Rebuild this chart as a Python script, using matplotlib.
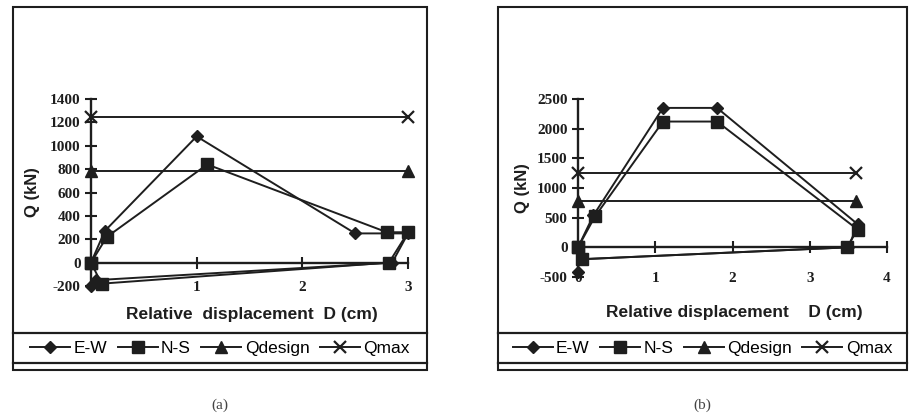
import matplotlib.pyplot as plt
from matplotlib.patches import Rectangle
from matplotlib.lines import Line2D

plt.rcParams['axes.unicode_minus'] = False

# panel (a) data
a_ew_x = [0, 0.13, 1.0, 2.5, 3.0, 2.85, 0.05, 0]
a_ew_y = [0, 270, 1080, 250, 250, 0, -150, -200]
a_ns_x = [0, 0.15, 1.1, 2.8, 3.0, 2.82, 0.1, 0]
a_ns_y = [0, 220, 840, 260, 260, 0, -180, 0]
a_lim_x = [0, 3]
a_qdesign = [780, 780]
a_qmax = [1250, 1250]
a_xticks = [0, 1, 2, 3]
a_yticks = [-200, 0, 200, 400, 600, 800, 1000, 1200, 1400]

# panel (b) data
b_ew_x = [0, 0, 0.2, 1.1, 1.8, 3.62, 3.5, 0.05]
b_ew_y = [-420, 0, 540, 2350, 2350, 390, 0, -200]
b_ns_x = [0, 0.22, 1.1, 1.8, 3.62, 3.48, 0.05, 0]
b_ns_y = [0, 520, 2120, 2120, 300, 0, -200, 0]
b_lim_x = [0, 3.6]
b_qdesign = [780, 780]
b_qmax = [1250, 1250]
b_xticks = [0, 1, 2, 3, 4]
b_yticks = [-500, 0, 500, 1000, 1500, 2000, 2500]

ink = '#1e1e1e'
serif = 'Liberation Serif'
sans = 'Liberation Sans'

fig = plt.figure(figsize=(9.09, 4.17), dpi=100)
W, H = 909, 417


def fx(px):
    return px / W


def fy(py):
    return 1 - py / H


def panel(rect, ew_x, ew_y, ns_x, ns_y, lim_x, qd, qm, xticks, yticks,
          xmax, ylim, box, caption, xlabel, xlabel_pos, ylabel_x):
    ax = fig.add_axes(rect)
    ax.set_facecolor('none')
    ax.plot(ew_x, ew_y, color=ink, lw=1.4, marker='D', ms=6.5, clip_on=False)
    ax.plot(ns_x, ns_y, color=ink, lw=1.4, marker='s', ms=9, clip_on=False)
    ax.plot(lim_x, qd, color=ink, lw=1.4, marker='^', ms=8.5, clip_on=False)
    ax.plot(lim_x, qm, color=ink, lw=1.4, marker='x', ms=9, mew=1.6, clip_on=False)

    ax.set_xlim(0, xmax)
    ax.set_ylim(*ylim)
    ax.spines['right'].set_visible(False)
    ax.spines['bottom'].set_visible(False)
    ax.spines['top'].set_position(('data', 0))
    ax.spines['top'].set_linewidth(1.7)
    ax.spines['left'].set_linewidth(1.7)
    ax.spines['top'].set_color(ink)
    ax.spines['left'].set_color(ink)

    ax.set_xticks(xticks)
    ax.set_yticks(yticks)
    ax.xaxis.set_ticks_position('both')
    ax.tick_params(axis='x', top=True, bottom=False, labeltop=False,
                   labelbottom=True, direction='inout', length=9, width=1.5,
                   pad=-8, colors=ink)
    ax.tick_params(axis='y', direction='inout', length=9, width=1.5, pad=3,
                   colors=ink)
    for t in ax.get_xticklabels() + ax.get_yticklabels():
        t.set_fontfamily(serif)
        t.set_fontweight('bold')
        t.set_fontsize(11)

    fig.text(xlabel_pos[0], xlabel_pos[1], xlabel,
             family=sans, weight='bold', fontsize=12.5, color=ink,
             ha='center', va='center')
    fig.text(ylabel_x, (rect[1] + rect[1] + rect[3]) / 2, 'Q (kN)',
             family=sans, weight='bold', fontsize=12, color=ink,
             rotation=90, ha='center', va='center')

    # outer frame with legend strip and double bottom line
    x0, x1, y0, y1 = box
    fig.patches.append(Rectangle((fx(x0), fy(y1)), fx(x1) - fx(x0),
                                 fy(y0) - fy(y1), transform=fig.transFigure,
                                 fill=False, lw=1.5, ec=ink))
    for yy in (333, 363):
        fig.lines.append(Line2D([fx(x0), fx(x1)], [fy(yy), fy(yy)],
                                transform=fig.transFigure, lw=1.6, color=ink))

    handles = [
        Line2D([], [], color=ink, lw=1.4, marker='D', ms=6.5),
        Line2D([], [], color=ink, lw=1.4, marker='s', ms=9),
        Line2D([], [], color=ink, lw=1.4, marker='^', ms=8.5),
        Line2D([], [], color=ink, lw=1.4, marker='x', ms=9, mew=1.6),
    ]
    fig.legend(handles, ['E-W', 'N-S', 'Qdesign', 'Qmax'], ncol=4,
               loc='center', bbox_to_anchor=((fx(x0) + fx(x1)) / 2, fy(348)),
               frameon=False, handlelength=2.3, handletextpad=0.2,
               columnspacing=0.6, borderpad=0.2,
               prop={'family': sans, 'size': 12.5})

    fig.text((fx(x0) + fx(x1)) / 2, fy(405), caption, family=serif,
             fontsize=11, color='#444444', ha='center', va='center')
    return ax


panel([fx(91), fy(286), fx(408) - fx(91), fy(99) - fy(286)],
      a_ew_x, a_ew_y, a_ns_x, a_ns_y, a_lim_x, a_qdesign, a_qmax,
      a_xticks, a_yticks, 3, (-200, 1400), (13, 427, 7, 370), '(a)',
      'Relative  displacement  D (cm)', (fx(252), fy(315)), fx(33))

panel([fx(578), fy(277), fx(887) - fx(578), fy(99) - fy(277)],
      b_ew_x, b_ew_y, b_ns_x, b_ns_y, b_lim_x, b_qdesign, b_qmax,
      b_xticks, b_yticks, 4, (-500, 2500), (498, 907, 7, 370), '(b)',
      'Relative displacement    D (cm)', (fx(734), fy(312)), fx(523))

fig.savefig('out.png', dpi=100)
